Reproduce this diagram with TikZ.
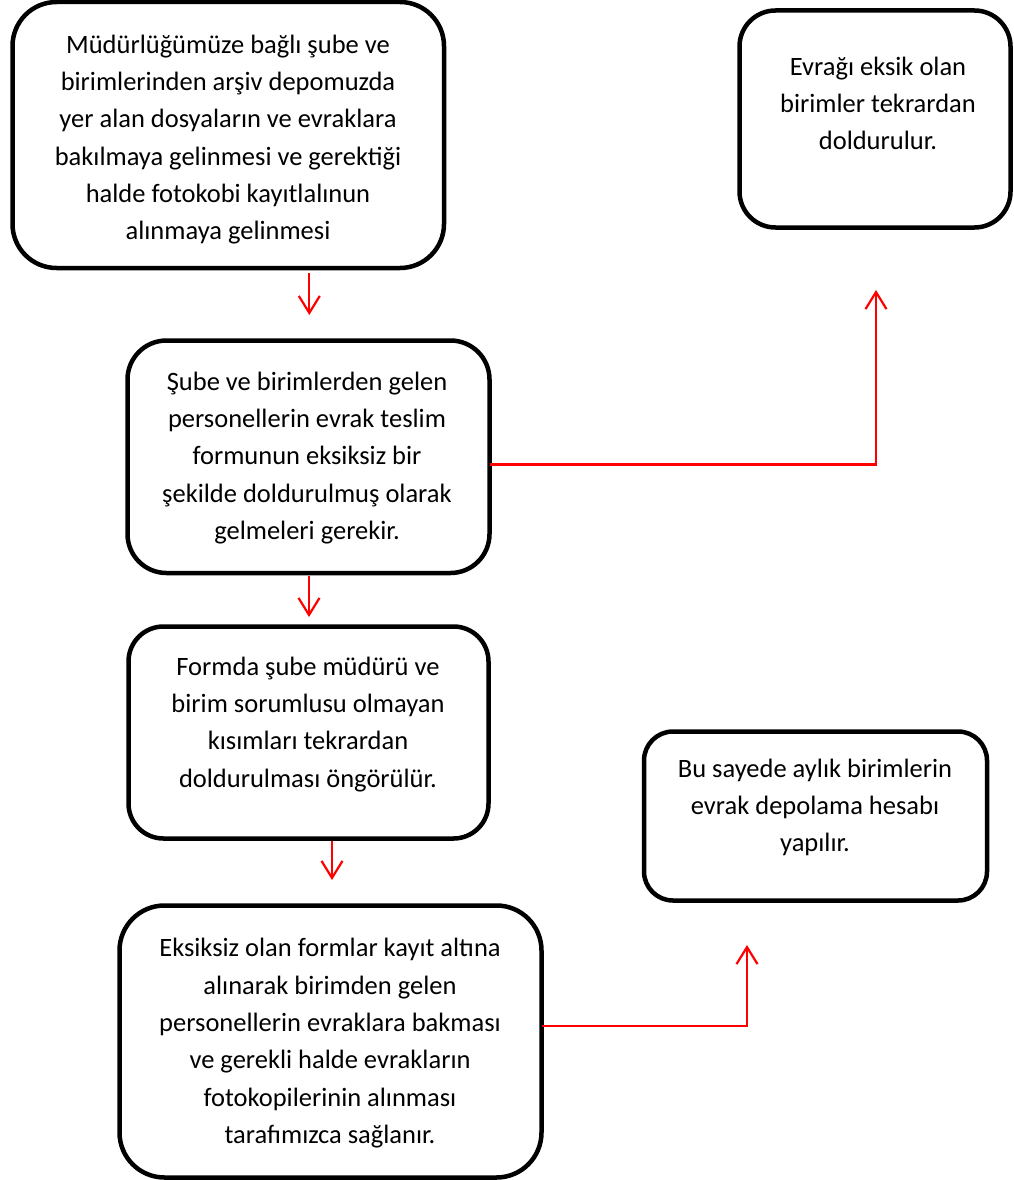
\documentclass[tikz,border=0pt]{standalone}
\usepackage{fontspec}
\setmainfont{Carlito}
\usetikzlibrary{arrows.meta}
\newcommand\topline{\rule{0pt}{25pt}}
\begin{document}
\begin{tikzpicture}[x=1pt, y=-1pt,
  box/.style={draw=black, line width=4.5pt, rectangle, inner sep=0pt, outer sep=0pt},
  txt/.style={align=center, inner sep=0pt, anchor=north,
    font=\fontsize{26.5}{37.3}\selectfont},
  flow/.style={draw=red, line width=2.2pt,
    -{Straight Barb[length=17pt, width=21pt]}}]
\useasboundingbox[fill=white] (0,0) rectangle (1013,1180);

% boxes
\node[box, rounded corners=44pt, minimum width=431.5pt, minimum height=266pt] (A) at (228.25,135) {};
\node[box, rounded corners=36pt, minimum width=271pt, minimum height=217pt] (B) at (875,119) {};
\node[box, rounded corners=39pt, minimum width=362pt, minimum height=232.5pt] (C) at (308.5,456.75) {};
\node[box, rounded corners=35pt, minimum width=360pt, minimum height=212pt] (D) at (308.5,732.5) {};
\node[box, rounded corners=29pt, minimum width=343pt, minimum height=169pt] (E) at (815.5,816) {};
\node[box, rounded corners=45pt, minimum width=422pt, minimum height=272pt] (F) at (330.5,1041.5) {};

% texts
\node[txt] (tA) at (228,28) {\topline Müdürlüğümüze bağlı şube ve\\birimlerinden arşiv depomuzda\\yer alan dosyaların ve evraklara\\bakılmaya gelinmesi ve gerektiği\\halde fotokobi kayıtlalınun\\alınmaya gelinmesi};
\node[txt] (tB) at (878,50) {\topline Evrağı eksik olan\\birimler tekrardan\\doldurulur.};
\node[txt] (tC) at (307,365) {\topline Şube ve birimlerden gelen\\personellerin evrak teslim\\formunun eksiksiz bir\\şekilde doldurulmuş olarak\\gelmeleri gerekir.};
\node[txt] (tD) at (308,650) {\topline Formda şube müdürü ve\\birim sorumlusu olmayan\\kısımları tekrardan\\doldurulması öngörülür.};
\node[txt] (tE) at (815,752) {\topline Bu sayede aylık birimlerin\\evrak depolama hesabı\\yapılır.};
\node[txt] (tF) at (330,931.7) {\topline Eksiksiz olan formlar kayıt altına\\alınarak birimden gelen\\personellerin evraklara bakması\\ve gerekli halde evrakların\\fotokopilerinin alınması\\tarafımızca sağlanır.};

% connector ends and bends
\coordinate (a0) at (309.3,272.5);
\coordinate (a1) at (309.3,315);
\coordinate (c0) at (309,575.5);
\coordinate (c1) at (309,617);
\coordinate (d0) at (332,840.5);
\coordinate (d1) at (332,880);
\coordinate (cb) at (876,464.5);
\coordinate (cbt) at (876,290);
\coordinate (fe) at (747,1026);
\coordinate (fet) at (747,945);

% connectors
\draw[flow] (a0) -- (a1);
\draw[flow] (c0) -- (c1);
\draw[flow] (d0) -- (d1);
\draw[flow] (C.east |- cb) -- (cb) -- (cbt);
\draw[flow] (F.east |- fe) -- (fe) -- (fet);
\end{tikzpicture}
\end{document}
